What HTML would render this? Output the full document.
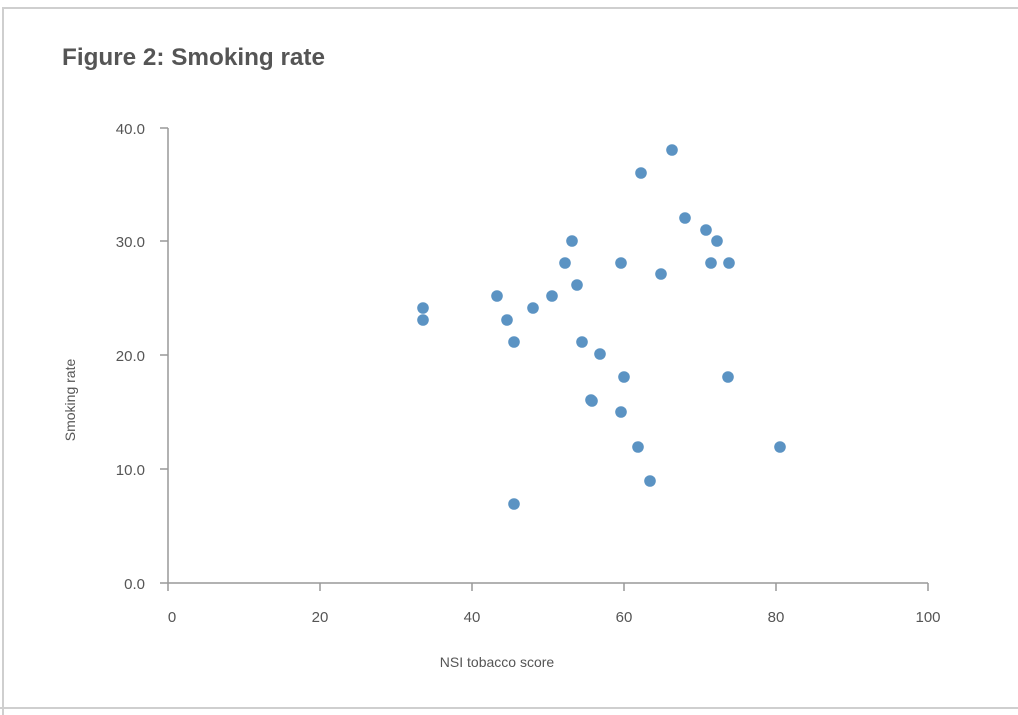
<!DOCTYPE html><html><head><style>body{margin:0;background:#fff}</style></head><body>
<svg width="1018" height="715" xmlns="http://www.w3.org/2000/svg" style="display:block">
<rect width="1018" height="715" fill="#fff"/>
<path d="M3 715 V8 H1018" fill="none" stroke="#cfcfcf" stroke-width="2"/>
<line x1="0" y1="708" x2="1018" y2="708" stroke="#cfcfcf" stroke-width="2"/>
<text x="62" y="65" font-family="Liberation Sans, sans-serif" font-size="24" font-weight="bold" fill="#555" textLength="263" lengthAdjust="spacingAndGlyphs">Figure 2: Smoking rate</text>
<g stroke="#999" stroke-width="1.5">
<line x1="168" y1="128" x2="168" y2="591"/>
<line x1="160" y1="583" x2="928" y2="583"/>
<line x1="160" y1="128" x2="168" y2="128"/><line x1="160" y1="241" x2="168" y2="241"/><line x1="160" y1="355" x2="168" y2="355"/><line x1="160" y1="469" x2="168" y2="469"/>
<line x1="320" y1="583" x2="320" y2="591"/><line x1="472" y1="583" x2="472" y2="591"/><line x1="624" y1="583" x2="624" y2="591"/><line x1="776" y1="583" x2="776" y2="591"/><line x1="928" y1="583" x2="928" y2="591"/>
</g>
<g font-family="Liberation Sans, sans-serif" font-size="15" fill="#555" text-anchor="end">
<text x="145" y="134">40.0</text><text x="145" y="247">30.0</text><text x="145" y="361">20.0</text><text x="145" y="475">10.0</text><text x="145" y="589">0.0</text>
</g>
<g font-family="Liberation Sans, sans-serif" font-size="15" fill="#555" text-anchor="middle">
<text x="172" y="622">0</text><text x="320" y="622">20</text><text x="472" y="622">40</text><text x="624" y="622">60</text><text x="776" y="622">80</text><text x="928" y="622">100</text>
<text x="497" y="667" font-size="14">NSI tobacco score</text>
<text transform="translate(75,400) rotate(-90)" font-size="14">Smoking rate</text>
</g>
<g fill="#5b93c3">
<circle cx="423" cy="308" r="5.8"/><circle cx="423" cy="320" r="5.8"/><circle cx="497" cy="296" r="5.8"/><circle cx="507" cy="320" r="5.8"/><circle cx="514" cy="342" r="5.8"/><circle cx="514" cy="504" r="5.8"/><circle cx="533" cy="308" r="5.8"/><circle cx="552" cy="296" r="5.8"/><circle cx="565" cy="263" r="5.8"/><circle cx="572" cy="241" r="5.8"/><circle cx="577" cy="285" r="5.8"/><circle cx="582" cy="342" r="5.8"/><circle cx="591" cy="400" r="5.8"/><circle cx="592" cy="401" r="5.8"/><circle cx="600" cy="354" r="5.8"/><circle cx="621" cy="263" r="5.8"/><circle cx="621" cy="412" r="5.8"/><circle cx="624" cy="377" r="5.8"/><circle cx="638" cy="447" r="5.8"/><circle cx="641" cy="173" r="5.8"/><circle cx="650" cy="481" r="5.8"/><circle cx="661" cy="274" r="5.8"/><circle cx="672" cy="150" r="5.8"/><circle cx="685" cy="218" r="5.8"/><circle cx="706" cy="230" r="5.8"/><circle cx="711" cy="263" r="5.8"/><circle cx="717" cy="241" r="5.8"/><circle cx="729" cy="263" r="5.8"/><circle cx="728" cy="377" r="5.8"/><circle cx="780" cy="447" r="5.8"/>
</g>
</svg>
</body></html>
